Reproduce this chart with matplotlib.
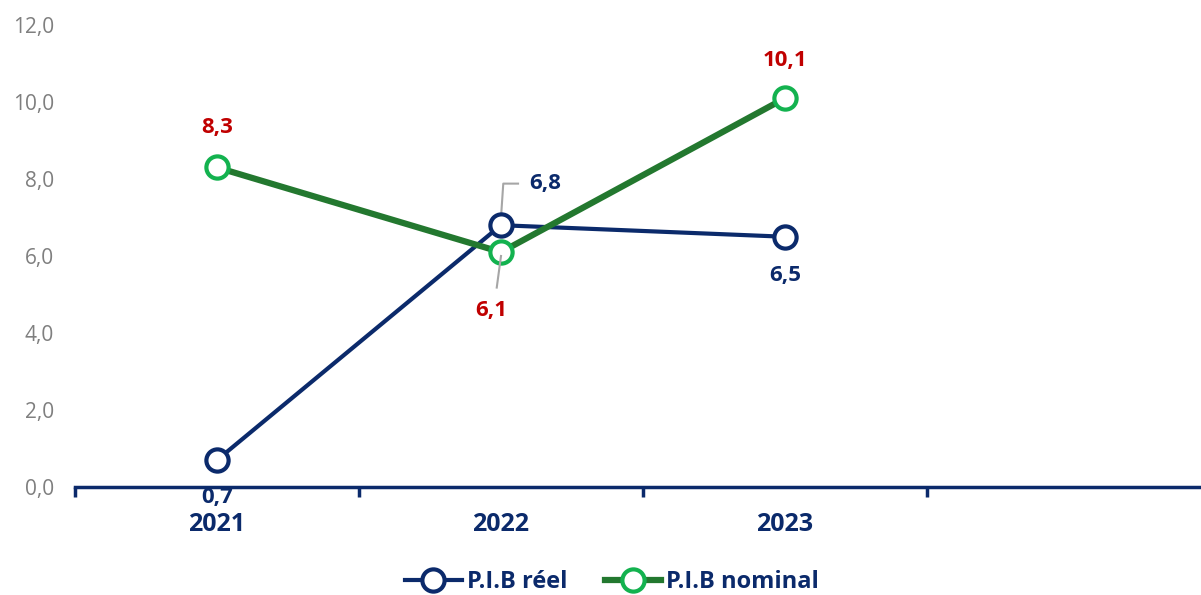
import numpy as np
import matplotlib
matplotlib.use('Agg')
import matplotlib.pyplot as plt

plt.rcParams['font.family'] = ['Open Sans', 'DejaVu Sans']

years = ['2021', '2022', '2023', '']
pib_reel = [0.7, 6.8, 6.5]
pib_nominal = [8.3, 6.1, 10.1]
y_ticks = [0, 2, 4, 6, 8, 10, 12]

NAVY = '#0b2a6b'
GREEN_LINE = '#23782f'
GREEN_MARK = '#13b24f'
RED = '#c00000'
GREY = '#7f7f7f'

W, H = 1201, 595
fig = plt.figure(figsize=(W / 100, H / 100), dpi=100)
# axis runs past the right edge, the 4th category slot is left empty
ax = fig.add_axes([75 / W, 1 - 487 / H, 1136 / W, 462 / H])

x = np.arange(len(years))
ax.plot(x[:3], pib_reel, color=NAVY, lw=3, marker='o', ms=16, mfc='white',
        mec=NAVY, mew=3, label='P.I.B réel', zorder=3)
ax.plot(x[:3], pib_nominal, color=GREEN_LINE, lw=4.5, marker='o', ms=16,
        mfc='white', mec=GREEN_MARK, mew=3, label='P.I.B nominal', zorder=4)

ax.set_xlim(-0.5, len(years) - 0.5)
ax.set_ylim(0, 12)
ax.set_yticks(y_ticks)
ax.set_yticklabels([f'{v:.1f}'.replace('.', ',') for v in y_ticks])
ax.set_xticks(np.arange(len(years) + 1) - 0.5, minor=True)
ax.set_xticks(x)
ax.set_xticklabels(years, fontsize=18, fontweight='bold', color=NAVY)
ax.tick_params(axis='x', which='major', length=0, pad=18)
ax.tick_params(axis='x', which='minor', length=7, width=2.5, color=NAVY)
ax.tick_params(axis='y', length=0, labelsize=15, labelcolor=GREY, pad=15)

for s in ['top', 'right', 'left']:
    ax.spines[s].set_visible(False)
ax.spines['bottom'].set_color(NAVY)
ax.spines['bottom'].set_linewidth(2.5)


def fmt(v):
    return f'{v:.1f}'.replace('.', ',')


lbl = dict(fontsize=16, fontweight='bold', ha='center', va='center')
# P.I.B réel labels
ax.annotate(fmt(pib_reel[0]), (x[0], pib_reel[0]), xytext=(0, -27),
            textcoords='offset points', color=NAVY, **lbl)
ax.annotate(fmt(pib_reel[2]), (x[2], pib_reel[2]), xytext=(0, -28),
            textcoords='offset points', color=NAVY, **lbl)
ax.annotate(fmt(pib_reel[1]), (x[1], pib_reel[1]), xytext=(32, 30),
            textcoords='offset points', color=NAVY, **lbl)
ax.plot([x[1], x[1] + 0.008, x[1] + 0.06],
        [pib_reel[1] + 0.2, pib_reel[1] + 1.08, pib_reel[1] + 1.08],
        color='#a6a6a6', lw=1.5, zorder=2)

# P.I.B nominal labels
ax.annotate(fmt(pib_nominal[0]), (x[0], pib_nominal[0]), xytext=(0, 29),
            textcoords='offset points', color=RED, **lbl)
ax.annotate(fmt(pib_nominal[2]), (x[2], pib_nominal[2]), xytext=(0, 27),
            textcoords='offset points', color=RED, **lbl)
ax.annotate(fmt(pib_nominal[1]), (x[1], pib_nominal[1]), xytext=(-7, -42),
            textcoords='offset points', color=RED, **lbl)
ax.plot([x[1], x[1] - 0.015], [pib_nominal[1] - 0.1, pib_nominal[1] - 0.92],
        color='#a6a6a6', lw=1.5, zorder=5)

leg = fig.legend(loc='center', bbox_to_anchor=(612 / W, 1 - 582 / H), ncol=2,
                 frameon=False, fontsize=17, handlelength=2.4,
                 columnspacing=1.6, handletextpad=0.2)
for t in leg.get_texts():
    t.set_color(NAVY)
    t.set_fontweight('bold')

fig.savefig('out.png', dpi=100)
